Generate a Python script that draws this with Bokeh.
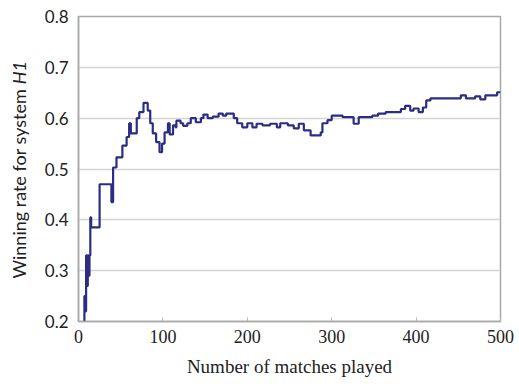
import math
from bokeh.plotting import figure
from bokeh.layouts import row
from bokeh.models import Range1d, FixedTicker
from bokeh.core.properties import value
from bokeh.embed import file_html
from bokeh.resources import INLINE

# running winning rate of system H1 (value holds until the next listed match)
match_no = [1, 6, 7, 8, 9, 10, 11, 12, 13, 14, 15, 25, 39, 41, 45, 52, 57, 60, 62,
            69, 72, 77, 82, 85, 88, 92, 96, 99, 102, 106, 108, 112, 115, 116, 121,
            124, 129, 133, 139, 145, 148, 153, 159, 166, 171, 175, 184, 188, 194,
            200, 206, 211, 218, 227, 235, 239, 248, 255, 261, 267, 275, 287, 289,
            295, 300, 313, 326, 332, 348, 355, 364, 382, 387, 393, 397, 403, 408,
            412, 417, 453, 459, 470, 476, 482, 496, 500]
win_rate = [0.0, 0.17, 0.25, 0.22, 0.33, 0.27, 0.33, 0.29, 0.33, 0.405, 0.385, 0.47,
            0.435, 0.503, 0.523, 0.546, 0.563, 0.59, 0.57, 0.60, 0.612, 0.63, 0.615,
            0.59, 0.57, 0.553, 0.533, 0.55, 0.572, 0.59, 0.568, 0.586, 0.582, 0.595,
            0.59, 0.585, 0.59, 0.60, 0.592, 0.60, 0.607, 0.60, 0.603, 0.609, 0.605,
            0.609, 0.60, 0.59, 0.582, 0.59, 0.582, 0.589, 0.586, 0.589, 0.582, 0.59,
            0.586, 0.58, 0.589, 0.576, 0.566, 0.572, 0.59, 0.596, 0.605, 0.602,
            0.589, 0.602, 0.605, 0.609, 0.612, 0.618, 0.624, 0.615, 0.619, 0.612,
            0.621, 0.635, 0.639, 0.645, 0.639, 0.643, 0.637, 0.645, 0.651, 0.651]

x_ticks = [0, 100, 200, 300, 400, 500]
y_ticks = [0.2, 0.3, 0.4, 0.5, 0.6, 0.7, 0.8]

TITLE_W = 30

p = figure(width=519 - TITLE_W, height=387, output_backend="svg", toolbar_location=None,
           x_range=Range1d(0, 500), y_range=Range1d(0.2, 0.8),
           min_border_left=78 - TITLE_W, min_border_right=19, min_border_top=16,
           min_border_bottom=66)
p.background_fill_color = "white"
p.border_fill_color = "white"
p.outline_line_color = "#a8a8a8"
p.outline_line_width = 1.5

p.step(match_no, win_rate, mode="after", line_color="#2b2d82", line_width=2.2)

# axes
p.xaxis.ticker = FixedTicker(ticks=x_ticks)
p.yaxis.ticker = FixedTicker(ticks=y_ticks)
p.yaxis.formatter.use_scientific = False
for ax in (p.xaxis, p.yaxis):
    ax.axis_line_color = "#a8a8a8"
    ax.axis_line_width = 1.5
    ax.minor_tick_line_color = None
    ax.major_label_text_color = "#222222"
p.xaxis.major_tick_in = 4
p.xaxis.major_tick_out = 0
p.xaxis.major_tick_line_color = "#b8b8b8"
p.yaxis.major_tick_line_color = None
p.yaxis.major_tick_out = 0
p.yaxis.major_tick_in = 0
p.xaxis.major_label_text_font = "Liberation Serif"
p.xaxis.major_label_text_font_size = "18px"
p.xaxis.major_label_standoff = 8
p.yaxis.major_label_text_font = "Lato"
p.yaxis.major_label_text_font_size = "17px"
p.yaxis.major_label_standoff = 10

p.xaxis.axis_label = "Number of matches played"
p.xaxis.axis_label_text_font = "Liberation Serif"
p.xaxis.axis_label_text_font_style = "normal"
p.xaxis.axis_label_text_font_size = "19px"
p.xaxis.axis_label_text_color = "#222222"
p.xaxis.axis_label_standoff = 10

# grid
p.xgrid.grid_line_color = None
p.ygrid.ticker = FixedTicker(ticks=[0.3, 0.4, 0.5, 0.6, 0.7])
p.ygrid.grid_line_color = "#d4d4d4"
p.ygrid.grid_line_width = 1.5

# narrow strip holding the vertical y-axis title (plain text + italic system name)
t = figure(width=TITLE_W, height=387, output_backend="svg", toolbar_location=None,
           x_range=Range1d(0, TITLE_W), y_range=Range1d(0, 387),
           x_axis_type=None, y_axis_type=None,
           min_border_left=0, min_border_right=0, min_border_top=0, min_border_bottom=0)
t.outline_line_color = None
t.grid.grid_line_color = None
t.background_fill_color = "white"
t.border_fill_color = "white"

junction = 301
t.text(x=[18], y=[junction], text=["Winning rate for system "], angle=math.pi / 2,
       text_align="right", text_baseline="middle",
       text_font=value("Lato"), text_font_size="18px", text_color="#222222")
t.text(x=[18], y=[junction], text=["H1"], angle=math.pi / 2,
       text_align="left", text_baseline="middle",
       text_font=value("Lato"), text_font_size="18px", text_font_style="italic",
       text_color="#222222")

layout = row(t, p)
open("out.html", "w").write(file_html(layout, INLINE))
